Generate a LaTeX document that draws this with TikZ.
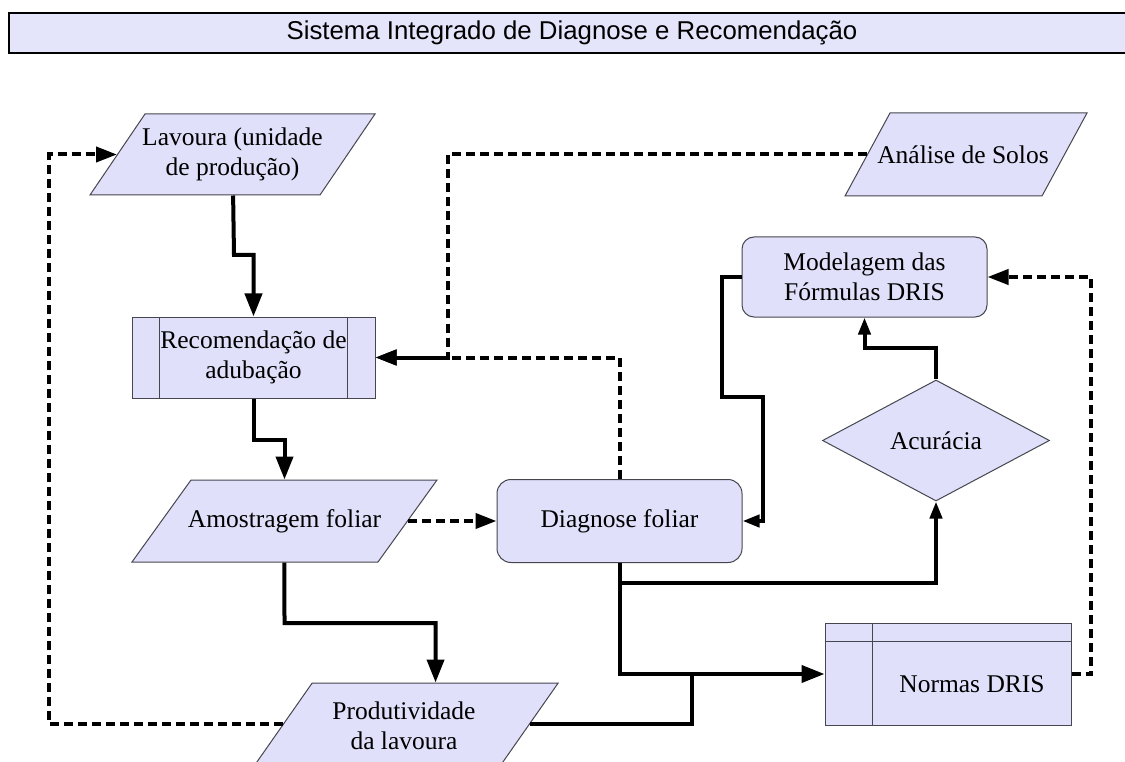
\documentclass[tikz,border=0pt]{standalone}
\usepackage{fontspec}
\setmainfont{Liberation Serif}
\newfontfamily\titlefont{Liberation Sans}
\usetikzlibrary{shapes.geometric,arrows.meta,calc}
\definecolor{fillc}{RGB}{224,224,250}
\definecolor{titlefill}{RGB}{228,228,250}
\definecolor{bordc}{RGB}{70,70,80}
\tikzset{
  shp/.style={draw=bordc, fill=fillc, line width=1pt, inner sep=0pt},
  txt/.style={align=center, inner sep=0pt, font=\fontsize{25.5}{30}\selectfont},
  conn/.style={line width=4pt, -{Triangle[length=23pt,width=17pt]}},
  sconn/.style={line width=4pt, -{Triangle[length=17pt,width=12pt]}},
  pconn/.style={line width=4pt},
  dconn/.style={line width=4pt, dash pattern=on 9pt off 5pt, -{Triangle[length=21pt,width=15pt]}},
}
\begin{document}
\begin{tikzpicture}[x=1pt,y=-1pt]
\clip (0,0) rectangle (1125,762);
\fill[white] (0,0) rectangle (1125,762);
% title
\node[draw=black, line width=1.5pt, fill=titlefill, minimum width=1126pt, minimum height=40pt, inner sep=0pt,
      font=\titlefont\fontsize{25.8}{28}\selectfont] (title) at (572,33) {Sistema Integrado de Diagnose e Recomendação};
% parallelograms
\node[shp, shift={(232.5,154.5)}, xslant=0.679, transform shape, minimum width=230pt, minimum height=81pt] (lav) at (0,0) {};
\node[txt] (lavt) at (lav) {Lavoura (unidade\\de produção)};
\node[shp, shift={(966,154.5)}, xslant=0.542, transform shape, minimum width=197pt, minimum height=83pt] (ana) at (0,0) {};
\node[txt] (anat) at (963,154.5) {Análise de Solos};
\node[shp, shift={(284.5,521)}, xslant=0.72, transform shape, minimum width=246pt, minimum height=82pt] (amo) at (0,0) {};
\node[txt] (amot) at (amo) {Amostragem foliar};
\node[shp, shift={(406.5,724)}, xslant=0.7, transform shape, minimum width=246pt, minimum height=82pt] (pro) at (0,0) {};
\node[txt] (prot) at (404,726) {Produtividade\\da lavoura};
% process box
\node[shp, minimum width=243pt, minimum height=81pt] (rec) at (253.5,357.5) {};
\draw[draw=bordc, line width=1pt] ($(rec.north west)+(28,0)$) -- ($(rec.south west)+(28,0)$);
\draw[draw=bordc, line width=1pt] ($(rec.north east)+(-28,0)$) -- ($(rec.south east)+(-28,0)$);
\node[txt] (rect) at (rec) {Recomendação de\\adubação};
% rounded boxes
\node[shp, rounded corners=12pt, minimum width=245pt, minimum height=80pt] (mod) at (864.5,277) {};
\node[txt] (modt) at (mod) {Modelagem das\\Fórmulas DRIS};
\node[shp, rounded corners=14pt, minimum width=245pt, minimum height=83pt] (dia) at (619.5,521) {};
\node[txt] (diat) at (dia) {Diagnose foliar};
% diamond
\node[shp, diamond, minimum width=227pt, minimum height=121pt] (acu) at (936,440.5) {};
\node[txt] (acut) at (acu) {Acurácia};
% Normas
\node[shp, minimum width=246pt, minimum height=102pt] (nor) at (948,674) {};
\draw[draw=bordc, line width=1pt] ($(nor.north west)+(48,0)$) -- ($(nor.south west)+(48,0)$);
\draw[draw=bordc, line width=1pt] ($(nor.north west)+(0,19)$) -- ($(nor.north east)+(0,19)$);
\node[txt] (nort) at (972,684) {Normas DRIS};
% connectors
\draw[conn] (lav) -- (234,255) -| (rec);
\draw[conn] (rec) -- (253.5,440) -| (amo);
\draw[dconn] (amo) -- (dia);
\draw[conn] (amo) -- (284.5,623) -| (pro.north);
\draw[dconn] (pro) -- (49,724) |- (lav);
\draw[dconn] (ana) -- (448,154.5) |- (rec);
\draw[dconn] (dia) |- (rec);
\draw[sconn] (mod) -- (722,277) -- (722,397) -- (763,397) |- (dia);
\draw[sconn] (dia) -- (619.5,583) -| (acu);
\draw[conn] (dia) |- (nor);
\draw[pconn] (pro) -- (692,724) -- (692,674);
\draw[sconn] (acu) -- (936,348) -| (mod);
\draw[dconn] (nor) -- (1091,674) |- (mod);
\end{tikzpicture}
\end{document}
